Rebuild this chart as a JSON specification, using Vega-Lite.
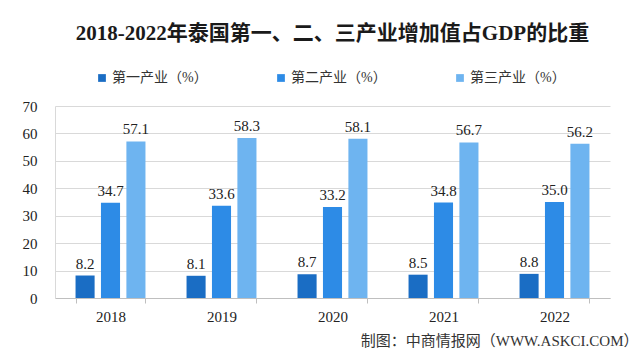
{
  "$schema": "https://vega.github.io/schema/vega-lite/v6.json",
  "autosize": {"type": "none"},
  "width": 555,
  "height": 192,
  "padding": {"left": 55, "top": 106, "right": 30, "bottom": 64},
  "background": "white",
  "config": {
    "font": "Liberation Serif, Noto Sans CJK SC",
    "view": {"stroke": null}
  },
  "title": {
    "text": "2018-2022年泰国第一、二、三产业增加值占GDP的比重",
    "font": "Liberation Serif, Noto Sans CJK SC",
    "fontSize": 21,
    "fontWeight": "bold",
    "color": "#1a1a1a",
    "anchor": "middle",
    "offset": 27
  },
  "data": {
    "values": [
      {"year": "2018", "series": "第一产业（%）", "value": 8.2},
      {"year": "2018", "series": "第二产业（%）", "value": 34.7},
      {"year": "2018", "series": "第三产业（%）", "value": 57.1},
      {"year": "2019", "series": "第一产业（%）", "value": 8.1},
      {"year": "2019", "series": "第二产业（%）", "value": 33.6},
      {"year": "2019", "series": "第三产业（%）", "value": 58.3},
      {"year": "2020", "series": "第一产业（%）", "value": 8.7},
      {"year": "2020", "series": "第二产业（%）", "value": 33.2},
      {"year": "2020", "series": "第三产业（%）", "value": 58.1},
      {"year": "2021", "series": "第一产业（%）", "value": 8.5},
      {"year": "2021", "series": "第二产业（%）", "value": 34.8},
      {"year": "2021", "series": "第三产业（%）", "value": 56.7},
      {"year": "2022", "series": "第一产业（%）", "value": 8.8},
      {"year": "2022", "series": "第二产业（%）", "value": 35.0},
      {"year": "2022", "series": "第三产业（%）", "value": 56.2}
    ]
  },
  "encoding": {
    "x": {
      "field": "year",
      "type": "nominal",
      "scale": {"paddingInner": 0.37, "paddingOuter": 0.185},
      "axis": {
        "title": "制图：中商情报网（WWW.ASKCI.COM）",
        "titleAnchor": "end",
        "titleAlign": "right",
        "titleBaseline": "middle",
        "titleX": 583,
        "titleY": 42,
        "titleFont": "Liberation Serif, Noto Sans CJK SC",
        "titleFontSize": 15,
        "titleFontWeight": "normal",
        "titleColor": "#333333",
        "labelAngle": 0,
        "labelFontSize": 15,
        "labelColor": "#222222",
        "labelPadding": 6,
        "domainColor": "#bfbfbf",
        "tickColor": "#bfbfbf",
        "tickBand": "extent",
        "tickSize": 5,
        "grid": false
      }
    },
    "xOffset": {"field": "series", "type": "nominal", "sort": ["第一产业（%）", "第二产业（%）", "第三产业（%）"], "scale": {"paddingInner": 0.25}},
    "y": {
      "field": "value",
      "type": "quantitative",
      "scale": {"domain": [0, 70]},
      "axis": {
        "title": null,
        "values": [0, 10, 20, 30, 40, 50, 60, 70],
        "labelFontSize": 15,
        "labelColor": "#222222",
        "labelPadding": 18,
        "ticks": false,
        "domain": true,
        "domainColor": "#d9d9d9",
        "gridColor": "#d9d9d9"
      }
    }
  },
  "layer": [
    {
      "mark": {"type": "bar"},
      "encoding": {
        "color": {
          "field": "series",
          "type": "nominal",
          "scale": {
            "domain": ["第一产业（%）", "第二产业（%）", "第三产业（%）"],
            "range": ["#1a6dc4", "#2d8be6", "#6eb4f0"]
          },
          "legend": {
            "title": null,
            "orient": "none",
            "legendX": 40,
            "legendY": -35,
            "direction": "horizontal",
            "symbolType": "square",
            "symbolSize": 60,
            "symbolStrokeWidth": 0,
            "labelFontSize": 14,
            "labelColor": "#333333",
            "labelFont": "Liberation Serif, Noto Sans CJK SC",
            "columnPadding": 66,
            "labelOffset": 3
          }
        }
      }
    },
    {
      "mark": {"type": "text", "dy": -12, "fontSize": 15, "color": "#222222", "font": "Liberation Serif, Noto Sans CJK SC"},
      "encoding": {
        "text": {"field": "value", "type": "quantitative", "format": ".1f"}
      }
    }
  ]
}
